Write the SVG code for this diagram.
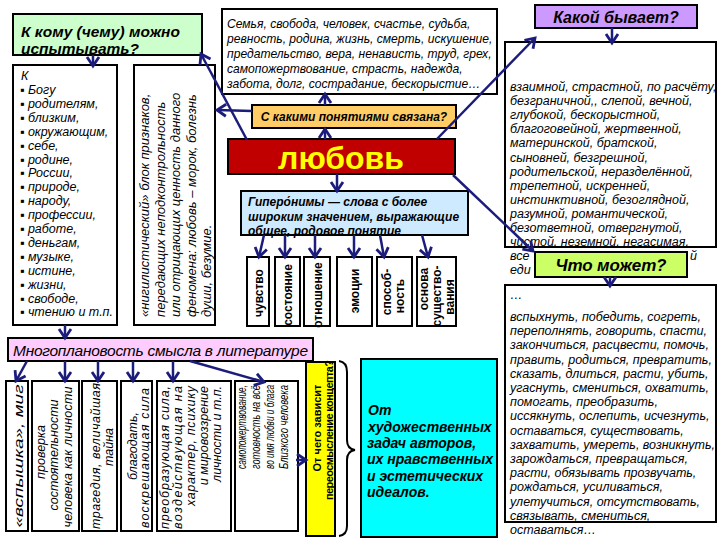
<svg xmlns="http://www.w3.org/2000/svg" width="720" height="540" viewBox="0 0 720 540">
<style>
.bx{stroke:#000;stroke-width:2}
text{font-family:"Liberation Sans",Arial,sans-serif;fill:#000}
.i{font-style:italic}
.b{font-weight:bold}
.body{font-style:italic;font-size:12.5px}
.col{font-style:italic;font-size:12.5px}
.sm{font-weight:bold;font-size:12px}
.con{stroke:#1c1c7c;stroke-width:2.5;fill:none;marker-end:url(#ah)}
</style>
<defs>
<marker id="ah" markerUnits="userSpaceOnUse" markerWidth="16" markerHeight="16" refX="11" refY="8" orient="auto">
<path d="M2,2 L11,8 L2,14" fill="none" stroke="#1c1c7c" stroke-width="2.8"/>
</marker>
</defs>
<rect width="720" height="540" fill="#fff"/>

<g id="title-who">
<rect class="bx" x="13" y="14" width="189" height="41" fill="#ccffcc"/>
<text class="i b" x="21" y="37" font-size="15.5">К кому (чему) можно</text>
<text class="i b" x="21" y="54" font-size="15.5">испытывать?</text>
</g>

<g id="list-who" xml:space="preserve">
<rect class="bx" x="13" y="65" width="104" height="260" fill="#fff"/>
<text class="body" x="21" y="80">К</text>
<text class="body" x="20" y="94">▪ Богу</text>
<text class="body" x="20" y="107.9">▪  родителям,</text>
<text class="body" x="20" y="121.8">▪ близким,</text>
<text class="body" x="20" y="135.7">▪ окружающим,</text>
<text class="body" x="20" y="149.6">▪ себе,</text>
<text class="body" x="20" y="163.5">▪ родине,</text>
<text class="body" x="20" y="177.4">▪ России,</text>
<text class="body" x="20" y="191.3">▪ природе,</text>
<text class="body" x="20" y="205.2">▪ народу,</text>
<text class="body" x="20" y="219.1">▪ профессии,</text>
<text class="body" x="20" y="233">▪ работе,</text>
<text class="body" x="20" y="246.9">▪ деньгам,</text>
<text class="body" x="20" y="260.8">▪ музыке,</text>
<text class="body" x="20" y="274.7">▪ истине,</text>
<text class="body" x="20" y="288.6">▪ жизни,</text>
<text class="body" x="20" y="302.5">▪ свободе,</text>
<text class="body" x="20" y="316.4">▪ чтению и т.п.</text>
</g>

<g id="nihil">
<rect class="bx" x="134" y="65" width="81" height="260" fill="#fff"/>
<g class="i" font-size="13">
<text transform="translate(149,317) rotate(-90)">«нигилистический» блок признаков,</text>
<text transform="translate(164.5,317) rotate(-90)">передающих неподконтрольность</text>
<text transform="translate(180,317) rotate(-90)">или отрицающих ценность данного</text>
<text transform="translate(195.5,317) rotate(-90)">феномена: любовь – морок, болезнь</text>
<text transform="translate(211,317) rotate(-90)">души, безумие.</text>
</g>
</g>

<g id="concepts">
<rect class="bx" x="222" y="9" width="275" height="85" fill="#fff"/>
<g class="i" font-size="12.1">
<text x="227" y="28">Семья, свобода, человек, счастье, судьба,</text>
<text x="227" y="43">ревность, родина, жизнь, смерть, искушение,</text>
<text x="227" y="58">предательство, вера, ненависть, труд, грех,</text>
<text x="227" y="73">самопожертвование, страсть, надежда,</text>
<text x="227" y="88">забота, долг, сострадание, бескорыстие…</text>
</g>
</g>

<g id="q-concepts">
<rect class="bx" x="252" y="105" width="204" height="23" fill="#ffcc66"/>
<text class="i b" x="354" y="121" font-size="12" text-anchor="middle">С какими понятиями связана?</text>
</g>

<g id="love">
<rect class="bx" x="228" y="139" width="227" height="35" fill="#c00000"/>
<text class="b" x="341" y="169" font-size="32" text-anchor="middle" style="fill:#ffff00">любовь</text>
</g>

<g id="hyper">
<rect class="bx" x="241" y="191" width="227" height="44" fill="#cdeaff"/>
<text class="i b" x="248" y="206" font-size="12">Гиперо́нимы — слова с более</text>
<text class="i b" x="248" y="221" font-size="12">широким значением, выражающие</text>
<text class="i b" x="248" y="235" font-size="12">общее, родовое понятие</text>
</g>

<g id="h1"><rect class="bx" x="247" y="257" width="22" height="69" fill="#fff"/><text class="sm" transform="translate(262.5,293) rotate(-90)" text-anchor="middle">чувство</text></g>
<g id="h2"><rect class="bx" x="275" y="257" width="25" height="69" fill="#fff"/><text class="sm" transform="translate(292,295) rotate(-90)" text-anchor="middle">состояние</text></g>
<g id="h3"><rect class="bx" x="304" y="257" width="26" height="69" fill="#fff"/><text class="sm" transform="translate(321.5,295) rotate(-90)" text-anchor="middle">отношение</text></g>
<g id="h4"><rect class="bx" x="337" y="257" width="35" height="69" fill="#fff"/><text class="sm" transform="translate(359,291) rotate(-90)" text-anchor="middle">эмоции</text></g>
<g id="h5"><rect class="bx" x="377" y="257" width="35" height="69" fill="#fff"/>
<text class="sm" transform="translate(391,292) rotate(-90)" text-anchor="middle">способ-</text>
<text class="sm" transform="translate(403.5,296) rotate(-90)" text-anchor="middle">ность</text></g>
<g id="h6"><rect class="bx" x="417" y="257" width="39" height="69" fill="#fff"/>
<text class="sm" transform="translate(427.5,289) rotate(-90)" text-anchor="middle">основа</text>
<text class="sm" transform="translate(440.5,296) rotate(-90)" text-anchor="middle">существо-</text>
<text class="sm" transform="translate(453.5,297) rotate(-90)" text-anchor="middle">вания</text></g>

<g id="q-what" >
<rect class="bx" x="535" y="5" width="162" height="23" fill="#cc99ff"/>
<text class="i b" x="616" y="23" font-size="16" text-anchor="middle">Какой бывает?</text>
</g>

<g id="kinds" xml:space="preserve">
<rect class="bx" x="505" y="42" width="211" height="205" fill="#fff"/>
<text class="body" x="510" y="91">взаимной, страстной, по расчёту,</text>
<text class="body" x="510" y="105.1"> безграничной,, слепой, вечной,</text>
<text class="body" x="510" y="119.2">глубокой, бескорыстной,</text>
<text class="body" x="510" y="133.3">благоговейной, жертвенной,</text>
<text class="body" x="510" y="147.4">материнской,  братской,</text>
<text class="body" x="510" y="161.5">сыновней, безгрешной,</text>
<text class="body" x="510" y="175.6">родительской, неразделённой,</text>
<text class="body" x="510" y="189.7">трепетной, искренней,</text>
<text class="body" x="510" y="203.8">инстинктивной, безоглядной,</text>
<text class="body" x="510" y="217.9">разумной,  романтической,</text>
<text class="body" x="510" y="232">безответной, отвергнутой,</text>
<text class="body" x="510" y="246.1">чистой, неземной, негасимая,</text>
<text class="body" x="510" y="260.2">все</text>
<text class="body" x="690" y="260.2">й</text>
<text class="body" x="510" y="274.3">еди</text>
</g>

<g id="q-can">
<rect class="bx" x="535" y="252" width="152" height="25" fill="#ccff66"/>
<text class="i b" x="611" y="271" font-size="17" text-anchor="middle" textLength="111">Что может?</text>
</g>

<g id="verbs" xml:space="preserve">
<rect class="bx" x="505" y="285" width="211" height="237" fill="#fff"/>
<text class="body" x="510" y="299">…</text>
<text class="body" x="510" y="321">вспыхнуть,  победить, согреть,</text>
<text class="body" x="510" y="335.2">переполнять,  говорить,  спасти,</text>
<text class="body" x="510" y="349.4">закончиться,   расцвести, помочь,</text>
<text class="body" x="510" y="363.6">править,  родиться, превратить,</text>
<text class="body" x="510" y="377.8">сказать,  длиться,  расти, убить,</text>
<text class="body" x="510" y="392">угаснуть,  смениться, охватить,</text>
<text class="body" x="510" y="406.2">помогать,  преобразить,</text>
<text class="body" x="510" y="420.4">иссякнуть, ослепить,  исчезнуть,</text>
<text class="body" x="510" y="434.6">оставаться,  существовать,</text>
<text class="body" x="510" y="448.8">захватить,  умереть,  возникнуть,</text>
<text class="body" x="510" y="463">зарождаться, превращаться,</text>
<text class="body" x="510" y="477.2">расти, обязывать прозвучать,</text>
<text class="body" x="510" y="491.4">рождаться, усиливаться,</text>
<text class="body" x="510" y="505.6">улетучиться, отсутствовать,</text>
<text class="body" x="510" y="519.8">связывать, смениться,</text>
<text class="body" x="510" y="534">оставаться…</text>
</g>

<g id="multi">
<rect class="bx" x="8" y="338" width="305" height="23" fill="#ffccff"/>
<text class="i" x="13" y="356" font-size="15.5" textLength="295">Многоплановость смысла в литературе</text>
</g>

<g id="c1"><rect class="bx" x="6" y="381" width="22" height="150" fill="#fff"/>
<text class="col" font-size="15" transform="translate(22.5,456) rotate(-90)" text-anchor="middle" textLength="143" lengthAdjust="spacingAndGlyphs">«вспышка», миг</text></g>
<g id="c2"><rect class="bx" x="32" y="381" width="47" height="150" fill="#fff"/>
<text class="col" transform="translate(45,452) rotate(-90)" text-anchor="middle">проверка</text>
<text class="col" transform="translate(58,455) rotate(-90)" text-anchor="middle">состоятельности</text>
<text class="col" transform="translate(72,457) rotate(-90)" text-anchor="middle" textLength="141">человека как личности</text></g>
<g id="c3"><rect class="bx" x="82" y="381" width="35" height="150" fill="#fff"/>
<text class="col" transform="translate(100,456) rotate(-90)" text-anchor="middle" textLength="146">трагедия, величайшая</text>
<text class="col" transform="translate(113,447) rotate(-90)" text-anchor="middle">тайна</text></g>
<g id="c4"><rect class="bx" x="121" y="381" width="31" height="150" fill="#fff"/>
<text class="col" transform="translate(137,446) rotate(-90)" text-anchor="middle">благодать,</text>
<text class="col" transform="translate(149,458) rotate(-90)" text-anchor="middle" textLength="140">воскрешающая сила</text></g>
<g id="c5"><rect class="bx" x="157" y="381" width="74" height="150" fill="#fff"/>
<text class="col" transform="translate(169,386) rotate(-90)" text-anchor="end" textLength="143">преобразующая сила,</text>
<text class="col" transform="translate(182,386) rotate(-90)" text-anchor="end" textLength="143">воздействующая на</text>
<text class="col" transform="translate(195,386) rotate(-90)" text-anchor="end" textLength="120">характер, психику</text>
<text class="col" transform="translate(208,386) rotate(-90)" text-anchor="end">и мировоззрение</text>
<text class="col" transform="translate(221,386) rotate(-90)" text-anchor="end">личности и т.п.</text></g>
<g id="c6"><rect class="bx" x="235" y="381" width="63" height="150" fill="#fff"/>
<text class="col" font-size="12.5" transform="translate(245.5,385) rotate(-90)" text-anchor="end" textLength="84" lengthAdjust="spacingAndGlyphs">самопожертвование,</text>
<text class="col" font-size="12.5" transform="translate(259.5,385) rotate(-90)" text-anchor="end" textLength="84" lengthAdjust="spacingAndGlyphs">готовность на всё</text>
<text class="col" font-size="12.5" transform="translate(273.5,385) rotate(-90)" text-anchor="end" textLength="84" lengthAdjust="spacingAndGlyphs">во имя любви и блага</text>
<text class="col" font-size="12.5" transform="translate(287.5,385) rotate(-90)" text-anchor="end" textLength="84" lengthAdjust="spacingAndGlyphs">Близкого человека</text></g>

<g id="q-depends">
<rect class="bx" x="306" y="362" width="29" height="174" fill="#ffff00"/>
<text class="b" font-size="11" transform="translate(321,428) rotate(-90)" text-anchor="middle">От чего зависит</text>
<text class="b" font-size="11" transform="translate(333,430) rotate(-90)" text-anchor="middle" textLength="140">переосмысление концепта?</text>
</g>

<g id="brace">
<path d="M339,361 Q347,362 347,372 L347,440 Q347,449 355,450 Q347,451 347,460 L347,526 Q347,535 339,536" fill="none" stroke="#000" stroke-width="2"/>
</g>

<g id="answer">
<rect class="bx" x="361" y="359" width="136" height="178" fill="#00ffff"/>
<g class="i b" font-size="14" xml:space="preserve">
<text x="368" y="415">От</text>
<text x="368" y="432"> художественных</text>
<text x="367" y="448">задач авторов,</text>
<text x="367" y="464">их нравственных</text>
<text x="367" y="481"> и эстетических</text>
<text x="367" y="497"> идеалов.</text>
</g>
</g>

<g id="connectors">
<path class="con" d="M93,55 V66"/>
<path class="con" d="M65,325 V338"/>
<path class="con" d="M247,140 L201,54"/>
<path class="con" d="M252,111 L217,110"/>
<path class="con" d="M325,105 V94"/>
<path class="con" d="M325,139 V129"/>
<path class="con" d="M337,174 V191"/>
<path class="con" d="M437,139 L535,38"/>
<path class="con" d="M453,175 L533,251"/>
<path class="con" d="M612,28 V43"/>
<path class="con" d="M610,277 V286"/>
<path class="con" d="M264,235 L259,257"/>
<path class="con" d="M285,235 V257"/>
<path class="con" d="M315,235 V257"/>
<path class="con" d="M354,235 V257"/>
<path class="con" d="M380,235 L384,257"/>
<path class="con" d="M422,235 L428,257"/>
<path class="con" d="M27,361 L16,381"/>
<path class="con" d="M65,361 V381"/>
<path class="con" d="M98,361 V381"/>
<path class="con" d="M133,361 V381"/>
<path class="con" d="M173,361 V381"/>
<path class="con" d="M190,361 L264,382"/>
<path class="con" d="M296,460 L306,460"/>
</g>
</svg>
